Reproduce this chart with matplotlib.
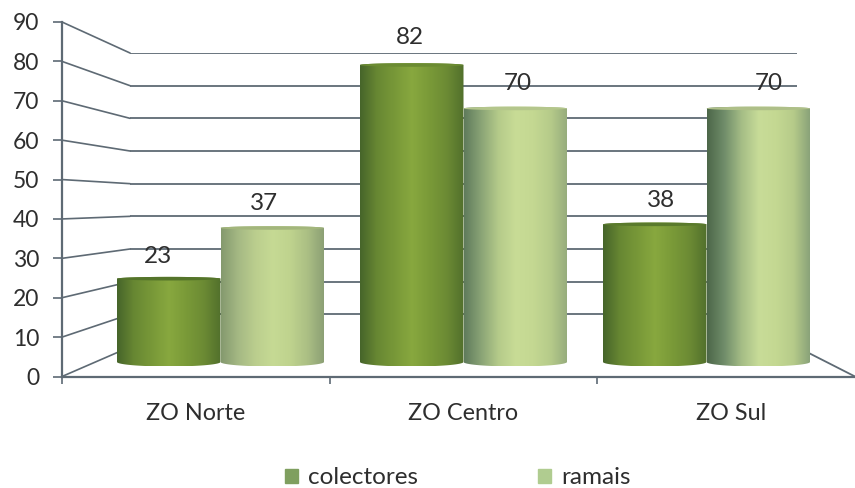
import numpy as np
import matplotlib
matplotlib.use("Agg")
import matplotlib.pyplot as plt
from matplotlib.colors import LinearSegmentedColormap
from matplotlib.patches import ConnectionPatch, Patch, PathPatch
from matplotlib.path import Path

categories = ["ZO Norte", "ZO Centro", "ZO Sul"]
colectores = [23, 82, 38]
ramais = [37, 70, 70]
y_ticks = [0, 10, 20, 30, 40, 50, 60, 70, 80, 90]

W, H = 855, 488
plt.rcParams["font.family"] = ["Lato", "DejaVu Sans"]
TEXT = "#2e2e2e"
LINE = "#5e6a74"
FS = 17.5
FS_CAT = 16.8
FS_TICK = 16.5

fig = plt.figure(figsize=(W / 100, H / 100), dpi=100, facecolor="white")


def axes_px(x0, x1, ytop, ybot, **kw):
    return fig.add_axes([x0 / W, 1 - ybot / H, (x1 - x0) / W, (ybot - ytop) / H], **kw)


# back wall, front axis, cylinders: three linked projections of the same 0-90 scale
wall = axes_px(130, 797, 53, 347, zorder=1)
front = axes_px(62, 855, 22, 376.5, zorder=2)
BELOW = 3
bars = axes_px(99, 828, 36, 362 + BELOW * 3.62, zorder=3)

for a in (wall, front):
    a.patch.set_alpha(0)
    a.set_ylim(0, 90)
bars.patch.set_alpha(0)

wall.set_xlim(0, 1)
wall.axis("off")
wall.hlines(y_ticks[1:], 0, 1, color=LINE, lw=1.3)

front.set_xlim(0, 793 / 267.5)
for s in ("top", "right"):
    front.spines[s].set_visible(False)
for s in ("left", "bottom"):
    front.spines[s].set_color(LINE)
    front.spines[s].set_linewidth(1.6)
front.set_yticks(y_ticks)
front.set_xticks([0, 1, 2])
front.set_xticklabels([])
front.tick_params(axis="y", length=6.5, width=1.2, color=LINE, labelsize=FS_TICK,
                  labelcolor=TEXT, pad=10)
front.tick_params(axis="x", length=5, width=1.2, color=LINE)
for i, c in enumerate(categories):
    front.annotate(c, (i + 0.5, 0), xytext=(0, -37), textcoords="offset pixels",
                   ha="center", va="center", fontsize=FS_CAT, color=TEXT,
                   annotation_clip=False)

# receding lines joining the axis to the back wall
for v in y_ticks:
    fig.add_artist(ConnectionPatch((0, v), (0, v), "data", "data", axesA=front, axesB=wall,
                                   color=LINE, lw=1.2, zorder=1.5))
fig.add_artist(ConnectionPatch((793 / 267.5, 0), (1, 0), "data", "data", axesA=front, axesB=wall,
                               color=LINE, lw=1.3, zorder=1.5))

bars.axis("off")

BW = 103.5 / 243
GRAD_C = ["#46652a", "#688833", "#789838", "#88a83f", "#7a9a38", "#6c8b34", "#52702c"]
GRAD_R = [
    ["#84996e", "#a5b984", "#bbce8e", "#c6da94", "#bfd38e", "#abbf84", "#8a9e74"],
    ["#5f7b5c", "#8aa476", "#b5cb8a", "#c8dc96", "#c4d892", "#b6cb8a", "#95ab7c"],
    ["#4d6749", "#708d6a", "#a5bd86", "#c8dc98", "#c4d892", "#b6cb8a", "#87a078"],
]
TOP_C = ["#54742a", "#6b8b32", "#5a7a2c"]
TOP_R = ["#a3b67c", "#b4c68c", "#aebf88"]

ry_bot = 4.5 / 3.62
ry_top = 1.8 / 3.62


def cylinder(xc, val, stops, top_color):
    x0, x1 = xc - BW / 2, xc + BW / 2
    ts = np.linspace(np.pi, 2 * np.pi, 40)
    low = np.c_[xc + BW / 2 * np.cos(ts), ry_bot * np.sin(ts)]
    tt = np.linspace(0, np.pi, 40)
    up = np.c_[xc + BW / 2 * np.cos(tt), val + ry_top * np.sin(tt)]
    outline = Path(np.vstack([low, up, low[:1]]))
    cmap = LinearSegmentedColormap.from_list("g", stops)
    im = bars.imshow(np.linspace(0, 1, 256)[None, :], cmap=cmap, aspect="auto",
                     extent=[x0, x1, -ry_bot, val + ry_top], zorder=3, interpolation="bilinear")
    patch = PathPatch(outline, transform=bars.transData, fc="none", ec="none")
    bars.add_patch(patch)
    im.set_clip_path(patch)
    ring = np.linspace(0, 2 * np.pi, 60)
    bars.fill(xc + BW / 2 * np.cos(ring), val + ry_top * np.sin(ring), color=top_color, lw=0, zorder=4)


for i, (c, r) in enumerate(zip(colectores, ramais)):
    cylinder(i - BW / 2, c, GRAD_C, TOP_C[i])
    cylinder(i + BW / 2, r, GRAD_R[i], TOP_R[i])

bars.set_xlim(-0.5, 2.5)
bars.set_ylim(-BELOW, 90)

# value labels, nudged as in the original perspective rendering
dx = [(-11, -8), (-2, 3), (6, 11)]
dy = [(22, 24), (27, 25), (24, 25)]
for i, (c, r) in enumerate(zip(colectores, ramais)):
    for xc, v, ox, oy in ((i - BW / 2, c, dx[i][0], dy[i][0]), (i + BW / 2, r, dx[i][1], dy[i][1])):
        bars.annotate(str(v), (xc, v), xytext=(ox, oy), textcoords="offset pixels",
                      ha="center", va="center", fontsize=FS, color=TEXT,
                      annotation_clip=False, zorder=6)

handles = [Patch(color="#7f9f5f", label="colectores"), Patch(color="#b0cc90", label="ramais")]
fig.legend(handles=handles, loc="center", bbox_to_anchor=(458 / W, 1 - 478 / H), ncol=2,
           frameon=False, fontsize=FS, labelcolor=TEXT, handlelength=0.53, handleheight=0.55,
           handletextpad=0.4, columnspacing=4.95)

fig.savefig("out.png", dpi=100)
